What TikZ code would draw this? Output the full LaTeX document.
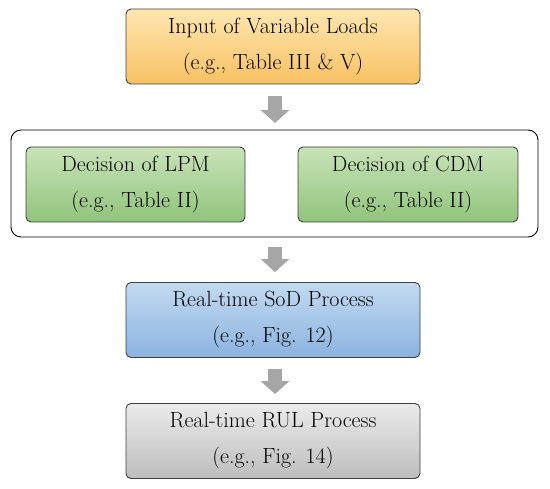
\documentclass[tikz,border=0pt]{standalone}
\usepackage{tikz}
\usetikzlibrary{arrows.meta}

\definecolor{loadtop}{HTML}{FEE6B0}
\definecolor{loadbot}{HTML}{F8C163}
\definecolor{dectop}{HTML}{C9E3B8}
\definecolor{decbot}{HTML}{90C47C}
\definecolor{sodtop}{HTML}{C2DAF0}
\definecolor{sodbot}{HTML}{8BB3E0}
\definecolor{rultop}{HTML}{EBEBEB}
\definecolor{rulbot}{HTML}{BDBDBD}
\definecolor{edge}{HTML}{3F3F3F}
\definecolor{flowgray}{HTML}{A6A6A6}

\tikzset{
  stage/.style={draw=edge, line width=0.9pt, rounded corners=5pt, align=center,
    minimum width=294pt, minimum height=75pt, inner sep=0pt,
    font=\fontsize{22}{36}\selectfont,
    execute at begin node={\rule{0pt}{22pt}}},
  flow/.style={draw=flowgray, line width=14pt,
    -{Triangle[width=28pt,length=13pt]}}
}

\begin{document}
\begin{tikzpicture}[x=1pt,y=1pt]
\useasboundingbox (0,0) rectangle (550,-489);
% stages
\node[stage, top color=loadtop, bottom color=loadbot] (load) at (273,-46.5)
  {Input of Variable Loads\\(e.g., Table III \& V)};
\draw[draw=black, line width=0.9pt, rounded corners=10pt, fill=white] (11,-130) rectangle (538,-237);
\coordinate (frametop) at (275,-130);
\coordinate (framebot) at (275,-237);
\node[stage, minimum width=219pt, top color=dectop, bottom color=decbot] (lpm) at (135.5,-184.5)
  {Decision of LPM\\(e.g., Table II)};
\node[stage, minimum width=220pt, top color=dectop, bottom color=decbot] (cdm) at (408,-184.5)
  {Decision of CDM\\(e.g., Table II)};
\node[stage, top color=sodtop, bottom color=sodbot] (sod) at (273,-320)
  {Real-time SoD Process\\(e.g., Fig. 12)};
\node[stage, top color=rultop, bottom color=rulbot] (rul) at (273,-441)
  {Real-time RUL Process\\(e.g., Fig. 14)};
% arrows
\draw[flow] ([yshift=-12pt]load.south -| frametop) -- ([yshift=7pt]frametop);
\draw[flow] ([yshift=-10pt]framebot) -- ([yshift=10pt]sod.north -| framebot);
\draw[flow] ([yshift=-11pt]sod.south -| framebot) -- ([yshift=9pt]rul.north -| framebot);
\end{tikzpicture}
\end{document}
